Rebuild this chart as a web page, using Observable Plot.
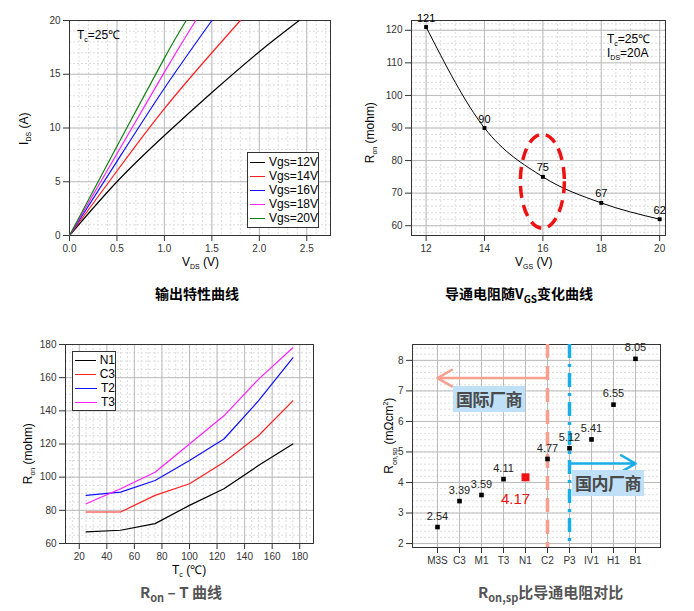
<!DOCTYPE html>
<html><head><meta charset="utf-8">
<script src="https://cdn.jsdelivr.net/npm/d3@7"></script>
<script src="https://cdn.jsdelivr.net/npm/@observablehq/plot@0.6"></script>
<style>
body{margin:0;background:#fff;font-family:"Liberation Sans",Arial,sans-serif}
#c{position:relative;width:694px;height:611px}
.p{position:absolute}
.t{position:absolute;font-weight:bold;font-family:"Noto Sans CJK SC","Liberation Sans",sans-serif;white-space:nowrap}
.n{font-weight:normal;font-family:"Liberation Sans",Arial,sans-serif}
.box{position:absolute;background:#bfe0f7;color:#4a4a4a;font-weight:bold;font-family:"Noto Sans CJK SC",sans-serif;text-align:center;line-height:26px;width:72px;height:26px;white-space:nowrap;letter-spacing:-0.5px}
</style></head><body><div id="c"></div>
<script>
// Panel 1 data
const vgsNames=["Vgs=12V","Vgs=14V","Vgs=16V","Vgs=18V","Vgs=20V"];
const vgsColors=["#000000","#ff2020","#1010ff","#ff20ff","#108010"];
const vds12=[0,0.5,1,1.5,2,2.42], ids12=[0,5,9.3,13.3,17.1,20];
const vds14=[0,0.5,1,1.5,1.8], ids14=[0,6,11.8,17,20];
const vds16=[0,0.5,1,1.5], ids16=[0,6.9,13.7,20];
const vds18=[0,0.5,1,1.33], ids18=[0,7.6,15.2,20];
const vds20=[0,0.5,1,1.23], ids20=[0,8.3,16.5,20];
// Panel 2 data
const vgs=[12,14,16,18,20], ron=[121,90,75,67,62];
// Panel 3 data
const temps=[25,50,75,100,125,150,175];
const tNames=["N1","C3","T2","T3"];
const tColors=["#000000","#ff2020","#1010ff","#ff20ff"];
const rN1=[67,68,72,83,93,107,120];
const rC3=[79,79,89,96,109,125,146];
const rT2=[89,91,98,110,123,146,172];
const rT3=[84,93,103,120,137,159,178];
// Panel 4 data
const makers=["M3S","C3","M1","T3","N1","C2","P3","IV1","H1","B1"];
const ronsp=[2.54,3.39,3.59,4.11,4.17,4.77,5.12,5.41,6.55,8.05];

const C=document.getElementById("c");
function place(el,l,t){el.classList.add("p");el.style.left=l+"px";el.style.top=t+"px";C.appendChild(el);return el;}
function text(html,l,t,size,color,cls){const d=document.createElement("div");d.className=cls||"t";d.innerHTML=html;d.style.left=l+"px";d.style.top=t+"px";d.style.fontSize=size+"px";d.style.color=color||"#000";C.appendChild(d);return d;}
function rot(html,cx,cy){const d=text(html,0,0,12,"#000","t n");const w=d.offsetWidth,h=d.offsetHeight;d.style.left=(cx-w/2)+"px";d.style.top=(cy-h/2)+"px";d.style.transform="rotate(-90deg)";return d;}
function grids(xMinor,yMinor,xMajor,yMajor){
  return [
    Plot.gridX(xMinor,{stroke:"#ddd",strokeOpacity:1,strokeDasharray:"2,2"}),
    Plot.gridY(yMinor,{stroke:"#ddd",strokeOpacity:1,strokeDasharray:"2,2"}),
    Plot.gridX(xMajor,{stroke:"#bbb",strokeOpacity:1}),
    Plot.gridY(yMajor,{stroke:"#bbb",strokeOpacity:1}),
    Plot.frame({stroke:"#333"})
  ];
}
const base={style:{fontSize:"10px",fontFamily:"Liberation Sans",color:"#333",background:"transparent"}};
function rng(a,b,s){const r=[];for(let v=a;v<=b+1e-9;v+=s)r.push(+v.toFixed(4));return r;}
const sub=s=>`<sub style='font-size:7px'>${s}</sub>`;

// ---------- Panel 1
const p1rows=[];
[[vds12,ids12],[vds14,ids14],[vds16,ids16],[vds18,ids18],[vds20,ids20]].forEach(([xs,ys],i)=>xs.forEach((x,j)=>p1rows.push({x,y:ys[j],s:vgsNames[i]})));
const p1=Plot.plot({...base,width:347,height:262,marginLeft:69,marginRight:17,marginTop:20,marginBottom:27,
  x:{domain:[0,2.75],ticks:rng(0,2.5,0.5),tickFormat:d3.format(".1f"),label:null},
  y:{domain:[0,20],ticks:[0,5,10,15,20],label:null},
  color:{domain:vgsNames,range:vgsColors},
  marks:[...grids(rng(0,2.7,0.1),rng(0,20,1),rng(0,2.5,0.5),[5,10,15]),
    Plot.line(p1rows,{x:"x",y:"y",stroke:"s",curve:"natural",strokeWidth:1.2})]});
place(p1,0,0);
text("T"+sub("c")+"=25℃",77,26,12,"#000","t n");
rot("I"+sub("DS")+" (A)",24,128);
text("V"+sub("DS")+" (V)",182,255,12,"#000","t n");
text("输出特性曲线",155,283,14,"#000");
{const lg=document.createElement("div");lg.style.cssText="position:absolute;left:247px;top:152px;width:70px;border:1px solid #333;background:#fff;padding:2px 0;font-size:12px";
vgsNames.forEach((n,i)=>{lg.innerHTML+=`<div style="display:flex;align-items:center;height:14px"><span style="display:inline-block;width:22px;height:0;border-top:1.5px solid ${vgsColors[i]};margin:0 4px 0 2px"></span>${n}</div>`});C.appendChild(lg);}

// ---------- Panel 2
const p2data=vgs.map((v,i)=>({v,r:ron[i]}));
const p2=Plot.plot({...base,width:347,height:262,marginLeft:64,marginRight:29,marginTop:20,marginBottom:27,
  x:{domain:[11.5,20.2],ticks:vgs,label:null},
  y:{domain:[57,123],ticks:rng(60,120,10),label:null},
  marks:[...grids(rng(12,20,0.5),rng(58,122,2),vgs,rng(60,120,10)),
    Plot.line(p2data,{x:"v",y:"r",stroke:"#000",curve:"monotone-x",strokeWidth:1}),
    Plot.dot(p2data,{x:"v",y:"r",symbol:"square",fill:"#000",r:2.2}),
    Plot.text(p2data,{x:"v",y:"r",text:"r",dy:-9,fontSize:11,fill:"#000"})
  ]});
place(p2,347,0);
{const xs=p2.scale("x"),ys=p2.scale("y");
 d3.select(p2).append("ellipse").attr("cx",xs.apply(16)).attr("cy",ys.apply(73.5)).attr("rx",22).attr("ry",47)
  .attr("fill","none").attr("stroke","#ee1111").attr("stroke-width",3.5).attr("stroke-dasharray","12,7");}
text("T"+sub("c")+"=25℃",607,30,12,"#000","t n");
text("I"+sub("DS")+"=20A",607,46,12,"#000","t n");
rot("R"+sub("on")+" (mohm)",370,132);
text("V"+sub("GS")+" (V)",515,255,12,"#000","t n");
text("导通电阻随V<sub style='font-size:10px'>GS</sub>变化曲线",445,283,14,"#000");

// ---------- Panel 3
const p3rows=[];
[rN1,rC3,rT2,rT3].forEach((arr,i)=>arr.forEach((r,j)=>p3rows.push({t:temps[j],r,s:tNames[i]})));
const p3=Plot.plot({...base,width:347,height:250,marginLeft:65,marginRight:34,marginTop:24,marginBottom:27,
  x:{domain:[10,190],ticks:rng(20,180,20),label:null},
  y:{domain:[60,180],ticks:rng(60,180,20),label:null},
  color:{domain:tNames,range:tColors},
  marks:[...grids(rng(10,190,5),rng(60,180,5),rng(20,180,20),rng(60,180,20)),
    Plot.line(p3rows,{x:"t",y:"r",stroke:"s",strokeWidth:1.2})]});
place(p3,0,320);
rot("R"+sub("on")+" (mohm)",28,453);
text("T"+sub("c")+" (℃)",172,561,12,"#000","t n");
text("R<sub style='font-size:11px'>on</sub> – T 曲线",140,581,15,"#555");
{const lg=document.createElement("div");lg.style.cssText="position:absolute;left:72px;top:351px;width:42px;border:1px solid #333;background:#fff;padding:1px 0;font-size:12px";
tNames.forEach((n,i)=>{lg.innerHTML+=`<div style="display:flex;align-items:center;height:14px"><span style="display:inline-block;width:22px;height:0;border-top:1.5px solid ${tColors[i]};margin:0 4px 0 2px"></span>${n}</div>`});C.appendChild(lg);}

// ---------- Panel 4
const p4rows=makers.map((m,i)=>({m,v:ronsp[i]}));
const others=p4rows.filter(d=>d.m!=="N1"), n1=p4rows.filter(d=>d.m==="N1");
const p4=Plot.plot({...base,width:347,height:250,marginLeft:65,marginRight:34,marginTop:24,marginBottom:23,
  x:{type:"point",domain:makers,padding:1,label:null},
  y:{domain:[1.87,8.52],ticks:rng(2,8,1),tickFormat:d3.format("d"),label:null},
  marks:[...grids(makers,rng(2,8.4,0.2),makers,rng(2,8,1)),
    Plot.ruleX(["C2"],{stroke:"#f7a090",strokeWidth:3.5,strokeDasharray:"14,8"}),
    Plot.ruleX(["P3"],{stroke:"#1aaee8",strokeWidth:3.5,strokeDasharray:"14,6,3,6"}),
    Plot.arrow([{a:"C2",b:"M3S",y:7.42}],{x1:"a",x2:"b",y1:"y",y2:"y",stroke:"#f7a090",strokeWidth:2.5,headLength:10}),
    Plot.arrow([{a:"P3",b:"B1",y:4.62}],{x1:"a",x2:"b",y1:"y",y2:"y",stroke:"#1aaee8",strokeWidth:2.5,headLength:10}),
    Plot.dot(others,{x:"m",y:"v",symbol:"square",fill:"#000",r:2.6}),
    Plot.dot(n1,{x:"m",y:"v",symbol:"square",fill:"#ee1111",r:4.5}),
    Plot.text(others,{x:"m",y:"v",text:d=>d.v.toFixed(2),dy:-11,fontSize:11,fill:"#222"}),
    Plot.text(n1,{x:"m",y:"v",text:d=>d.v.toFixed(2),dx:-10,dy:22,fontSize:15,fill:"#ee1111"})
  ]});
place(p4,347,320);
rot("R"+sub("on,sp")+" (mΩcm<sup style='font-size:7px'>2</sup>)",390,435);
text("国际厂商",453,386,17,"#4a4a4a","box");
text("国内厂商",572,470,17,"#4a4a4a","box");
text("R<sub style='font-size:11px'>on,sp</sub>比导通电阻对比",478,581,15,"#555");
</script></body></html>
